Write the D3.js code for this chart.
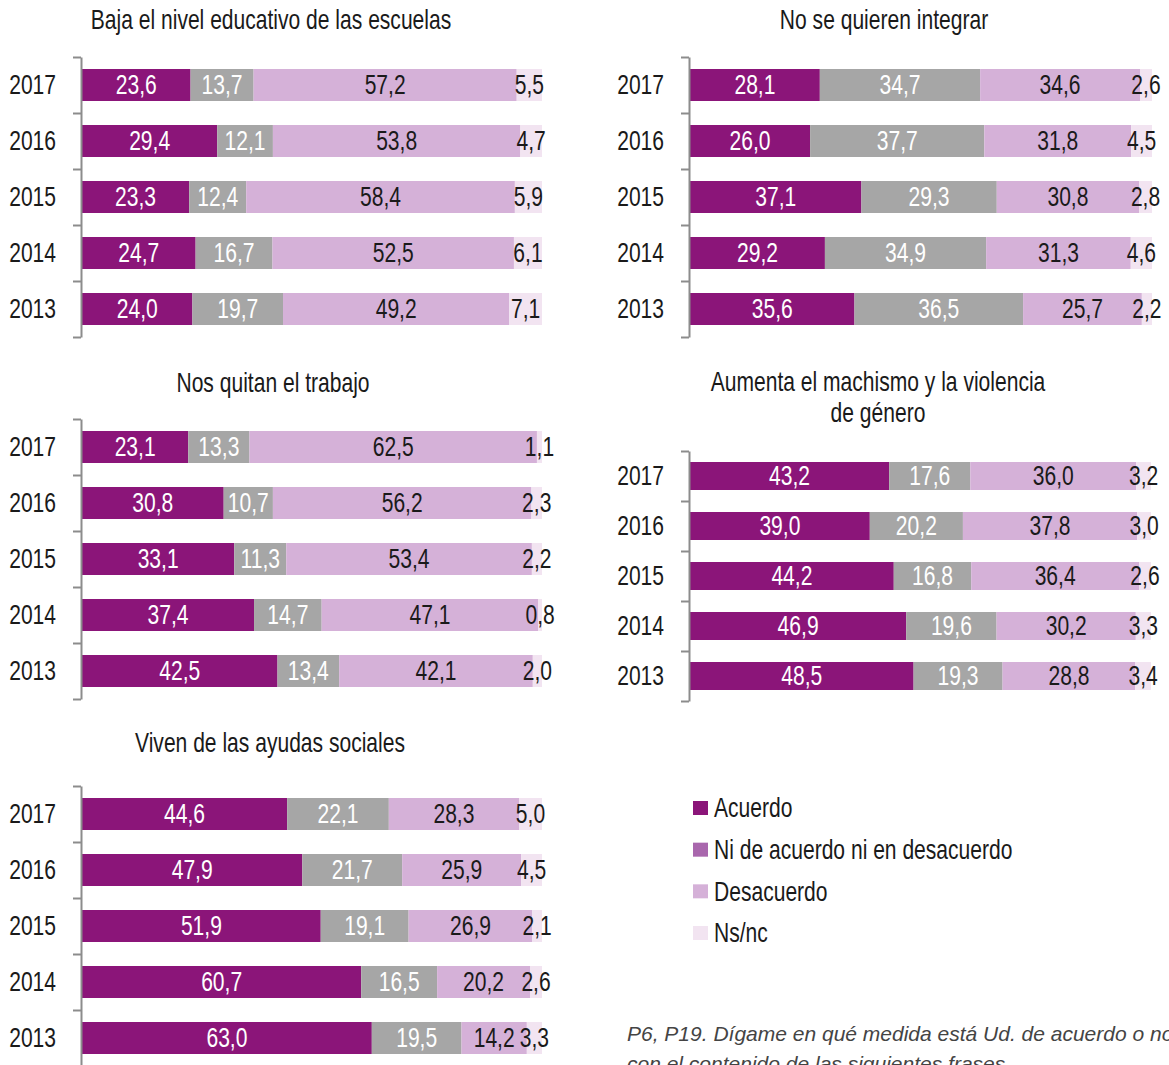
<!DOCTYPE html>
<html>
<head>
<meta charset="utf-8">
<script src="https://cdn.jsdelivr.net/npm/d3@7"></script>
<style>
  body { margin: 0; background: #fff; }
  svg { display: block; }
</style>
</head>
<body>
<svg id="chart" width="1169" height="1065"></svg>
<script>
// years top to bottom, legend categories
const years = ["2017", "2016", "2015", "2014", "2013"];
const categories = ["Acuerdo", "Ni de acuerdo ni en desacuerdo", "Desacuerdo", "Ns/nc"];

// values per year: [acuerdo, ni/ni, desacuerdo, ns/nc]
const educacion = [
  [23.6, 13.7, 57.2, 5.5],
  [29.4, 12.1, 53.8, 4.7],
  [23.3, 12.4, 58.4, 5.9],
  [24.7, 16.7, 52.5, 6.1],
  [24.0, 19.7, 49.2, 7.1]
];
const integrar = [
  [28.1, 34.7, 34.6, 2.6],
  [26.0, 37.7, 31.8, 4.5],
  [37.1, 29.3, 30.8, 2.8],
  [29.2, 34.9, 31.3, 4.6],
  [35.6, 36.5, 25.7, 2.2]
];
const trabajo = [
  [23.1, 13.3, 62.5, 1.1],
  [30.8, 10.7, 56.2, 2.3],
  [33.1, 11.3, 53.4, 2.2],
  [37.4, 14.7, 47.1, 0.8],
  [42.5, 13.4, 42.1, 2.0]
];
const machismo = [
  [43.2, 17.6, 36.0, 3.2],
  [39.0, 20.2, 37.8, 3.0],
  [44.2, 16.8, 36.4, 2.6],
  [46.9, 19.6, 30.2, 3.3],
  [48.5, 19.3, 28.8, 3.4]
];
const ayudas = [
  [44.6, 22.1, 28.3, 5.0],
  [47.9, 21.7, 25.9, 4.5],
  [51.9, 19.1, 26.9, 2.1],
  [60.7, 16.5, 20.2, 2.6],
  [63.0, 19.5, 14.2, 3.3]
];

const footnote = [
  "P6, P19. Dígame en qué medida está Ud. de acuerdo o no",
  "con el contenido de las siguientes frases"
];

const barColors = ["#8b1579", "#a6a6a6", "#d5b1d8", "#f2e4f1"];
const legendColors = ["#8b1579", "#a967ad", "#d5b1d8", "#f2e4f1"];
const labelColors = ["#fff", "#fff", "#1a1a1a", "#1a1a1a"];
const font = "'Liberation Sans', Arial, sans-serif";
const sx = 0.78; // squeeze to get a condensed look

const panels = [
  {title: ["Baja el nivel educativo de las escuelas"], values: educacion,
   axisX: 81, x1: 542, cx: 271, titleY: 29, top: 57, step: 56, barH: 32},
  {title: ["No se quieren integrar"], values: integrar,
   axisX: 689, x1: 1152, cx: 884, titleY: 29, top: 57, step: 56, barH: 32},
  {title: ["Nos quitan el trabajo"], values: trabajo,
   axisX: 81, x1: 542, cx: 273, titleY: 392, top: 419, step: 56, barH: 32},
  {title: ["Aumenta el machismo y la violencia", "de género"], values: machismo,
   axisX: 689, x1: 1151, cx: 878, titleY: 391, top: 451, step: 50, barH: 28},
  {title: ["Viven de las ayudas sociales"], values: ayudas,
   axisX: 81, x1: 542, cx: 270, titleY: 752, top: 786, step: 56, barH: 32}
];

const locale = d3.formatLocale({decimal: ",", thousands: ".", grouping: [3], currency: ["", "€"]});
const fmt = locale.format(".1f");

const svg = d3.select("#chart");
const stack = d3.stack().keys([0, 1, 2, 3]);

function narrow(sel) {
  return sel.style("font-family", font).style("font-size", "27px");
}

panels.forEach(p => {
  const g = svg.append("g");
  const x = d3.scaleLinear().domain([0, 100]).range([p.axisX + 1, p.x1]);
  const pad = 1 - p.barH / p.step;
  const y = d3.scaleBand().domain(years)
    .range([p.top, p.top + years.length * p.step])
    .paddingInner(pad).paddingOuter(pad / 2);
  const yEdge = d3.scaleLinear().domain([0, years.length])
    .range([p.top, p.top + years.length * p.step]);

  // title
  g.selectAll("text.title").data(p.title).join("text")
    .attr("class", "title")
    .attr("transform", (d, i) => `translate(${p.cx},${p.titleY + i * 31}) scale(${sx},1)`)
    .attr("text-anchor", "middle")
    .call(narrow).attr("fill", "#1a1a1a")
    .text(d => d);

  const series = stack(p.values);

  const layer = g.selectAll("g.layer").data(series).join("g")
    .attr("class", "layer")
    .attr("fill", (d, i) => barColors[i]);

  layer.selectAll("rect").data(d => d).join("rect")
    .attr("x", d => x(d[0]))
    .attr("y", (d, i) => y(years[i]))
    .attr("width", d => x(d[1]) - x(d[0]))
    .attr("height", y.bandwidth());

  series.forEach((s, k) => {
    g.append("g").selectAll("text").data(s).join("text")
      .attr("transform", (d, i) =>
        `translate(${(x(d[0]) + x(d[1])) / 2},${y(years[i]) + y.bandwidth() / 2}) scale(${sx},1)`)
      .attr("dy", "0.35em")
      .attr("text-anchor", "middle")
      .call(narrow)
      .attr("fill", labelColors[k])
      .text(d => fmt(d.data[k]));
  });

  // bracket axis with ticks between years
  g.append("g")
    .attr("transform", `translate(${p.axisX},0)`)
    .call(d3.axisLeft(yEdge).tickValues(d3.range(years.length + 1))
      .tickSize(8).tickSizeOuter(0).tickFormat(""))
    .call(a => a.selectAll("path, line").attr("stroke", "#8c8c8c").attr("stroke-width", 2));

  // year labels
  g.append("g")
    .attr("transform", `translate(${p.axisX},0)`)
    .call(d3.axisLeft(y).tickSize(0).tickPadding(25))
    .call(a => a.select(".domain").remove())
    .call(a => a.selectAll("text")
      .attr("transform", `scale(${sx},1)`)
      .attr("x", -25 / sx)
      .attr("dy", "0.35em")
      .call(narrow).attr("fill", "#1a1a1a"));
});

// legend
const legend = svg.append("g").attr("transform", "translate(693,0)");
const ly = d3.scalePoint().domain(categories).range([808, 933]);
const item = legend.selectAll("g").data(categories).join("g")
  .attr("transform", d => `translate(0,${ly(d)})`);
item.append("rect")
  .attr("x", 0).attr("y", -7).attr("width", 15).attr("height", 14)
  .attr("fill", (d, i) => legendColors[i]);
item.append("text")
  .attr("transform", `translate(21,0) scale(${sx},1)`)
  .attr("dy", "0.35em")
  .call(narrow).attr("fill", "#1a1a1a")
  .text(d => d);

// footnote
svg.append("g").selectAll("text").data(footnote).join("text")
  .attr("x", 627)
  .attr("y", (d, i) => 1041 + i * 30)
  .style("font-family", "'Liberation Sans', Arial, sans-serif")
  .style("font-size", "21px").style("font-style", "italic")
  .attr("fill", "#444")
  .text(d => d);
</script>
</body>
</html>
